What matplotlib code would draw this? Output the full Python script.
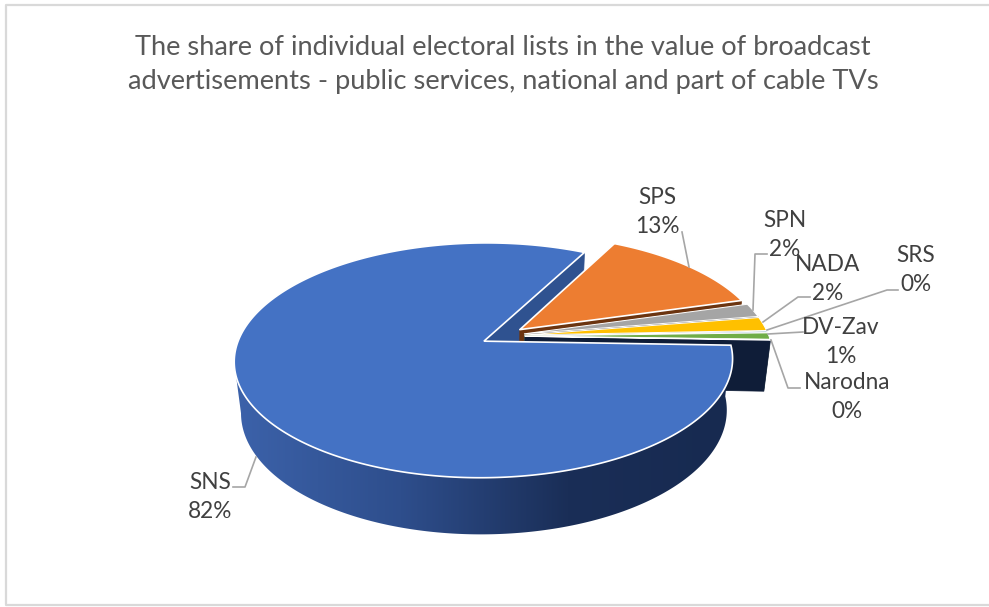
import numpy as np
import matplotlib
matplotlib.use('Agg')
import matplotlib.pyplot as plt
from matplotlib.colors import LinearSegmentedColormap
from matplotlib.patches import Polygon

plt.rcParams['font.family'] = ['Lato', 'DejaVu Sans']

# values in clockwise order, starting at the right hand edge of the big slice
lists = ['SNS', 'SPS', 'SPN', 'NADA', 'SRS', 'DV-Zav', 'Narodna']
shares = [82.0, 13.0, 1.9, 1.9, 0.2, 0.9, 0.1]
pct_labels = ['82%', '13%', '2%', '2%', '0%', '1%', '0%']
tops = ['#4472C4', '#ED7D31', '#A5A5A5', '#FFC000', '#5B9BD5', '#70AD47', '#264478']
walls = ['#2F5290', '#6B3410', '#6B6B6B', '#8A6800', '#2F5F90', '#3D6326', '#0F1D38']

title = ('The share of individual electoral lists in the value of broadcast\n'
         'advertisements - public services, national and part of cable TVs')

# camera
X0, Y0 = 503.0, 336.0
R, A, K = 244.0, 112.6, 0.162
H, M = 52.0, 0.025
EXPLODE = 0.09
START = 358.0   # plan angle where the big slice starts


def project(u, v, z=0.0):
    w = 1 + K * np.asarray(v) + M * z
    return X0 + R * np.asarray(u) / w, Y0 + (-A * np.asarray(v) + H * z) / w


fig = plt.figure(figsize=(9.89, 6.07), dpi=100)
ax = fig.add_axes([0, 0, 1, 1])
ax.set_xlim(0, 989)
ax.set_ylim(607, 0)
ax.axis('off')

# chart frame, the right side is cut off in the original
ax.plot([989, 6, 6, 989], [5, 5, 605, 605], color='#D9D9D9', lw=1.6)

# slice angles (clockwise from START)
fracs = np.array(shares) / sum(shares) * 360.0
ang_a = START - np.concatenate(([0], np.cumsum(fracs)[:-1]))
ang_b = ang_a - fracs
mids = np.radians((ang_a + ang_b) / 2)


def slice_outline(i, n=200):
    # returns apex and arc points in plan coordinates
    th = np.radians(np.linspace(ang_a[i], ang_b[i], n))
    cx, cy = EXPLODE * np.cos(mids[i]), EXPLODE * np.sin(mids[i])
    return cx, cy, cx + np.cos(th), cy + np.sin(th)


def draw_top(i):
    cx, cy, us, vs = slice_outline(i)
    u = np.concatenate(([cx], us))
    v = np.concatenate(([cy], vs))
    x, y = project(u, v)
    ax.fill(x, y, fc=tops[i], ec='white', lw=0.7 if i > 1 else 1.2, joinstyle='round')


def draw_radial_wall(i, end, color):
    cx, cy, us, vs = slice_outline(i)
    k = 0 if end == 'a' else -1
    x1, y1 = project([cx, us[k]], [cy, vs[k]], 0)
    x2, y2 = project([us[k], cx], [vs[k], cy], 1)
    ax.fill(np.r_[x1, x2], np.r_[y1, y2], fc=color, ec=color, lw=0.5)


# back wall of the big slice first, then the small slices from far to near
draw_radial_wall(0, 'b', '#2F5290')
for i in range(1, len(shares)):
    draw_radial_wall(i, 'b', walls[i])
    draw_top(i)

# front wall of big slice with left to right gradient, joined at the widest points
cx, cy, us, vs = slice_outline(0, n=800)
xt, yt = project(us, vs, 0)
xb, yb = project(us, vs, 1)
it, ib = np.argmin(xt), np.argmin(xb)
wall_xy = np.r_[np.c_[xt[:it + 1], yt[:it + 1]], np.c_[xb[:ib + 1], yb[:ib + 1]][::-1]]
cmap = LinearSegmentedColormap.from_list('wall', ['#3C62AA', '#2E4E8C', '#1A2E57', '#172A50'])
im = ax.imshow(np.linspace(0, 1, 256)[None, :], extent=(234, 735, 560, 330), cmap=cmap,
               aspect='auto', zorder=2)
im.set_clip_path(Polygon(wall_xy, transform=ax.transData))
ax.set_xlim(0, 989)
ax.set_ylim(607, 0)

u = np.concatenate(([cx], us))
v = np.concatenate(([cy], vs))
x, y = project(u, v)
ax.fill(x, y, fc=tops[0], ec='white', lw=1.2, zorder=3)

# labels and leader lines
label_pos = [(210, 497), (657, 212), (785, 235), (828, 279), (916, 270), (841, 342), (847, 397)]
leaders = [
    [(233, 487), (245, 487), (256, 457)],
    [(682, 232), (689, 267)],
    [(767, 254), (755, 254), (753, 310)],
    [(810, 297), (798, 297), (763, 322)],
    [(898, 290), (887, 290), (767, 330)],
    [(803, 332), (768, 334)],
    [(800, 388), (788, 388), (771, 340)],
]
for name, pct, pos, line in zip(lists, pct_labels, label_pos, leaders):
    lx, ly = zip(*line)
    ax.plot(lx, ly, color='#A6A6A6', lw=1.2, zorder=4)
    ax.text(pos[0], pos[1], name + '\n' + pct, ha='center', va='center', fontsize=16.3,
            color='#404040', linespacing=1.5, zorder=5)

ax.text(503, 64.5, title, ha='center', va='center', fontsize=19.6, color='#595959', linespacing=1.43)

fig.savefig('out.png', dpi=100)
